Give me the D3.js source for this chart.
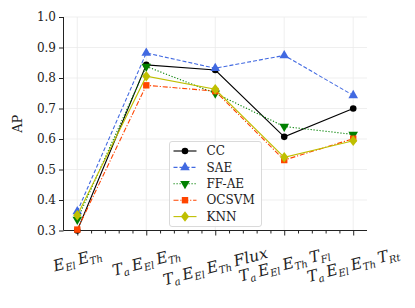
<!DOCTYPE html>
<html>
<head>
<meta charset="utf-8">
<script src="https://cdn.jsdelivr.net/npm/d3@7"></script>
<style>
  body { margin: 0; background: #fff; }
  svg { display: block; }
  text { font-family: "DejaVu Serif", serif; fill: #222; }
</style>
</head>
<body>
<svg id="chart" width="415" height="308"></svg>
<script>
// categories on the x axis (main letter, subscript) pieces
var categories = [
  [["E","El"],["E","Th"]],
  [["T","a"],["E","El"],["E","Th"]],
  [["T","a"],["E","El"],["E","Th"],["Flux",""]],
  [["T","a"],["E","El"],["E","Th"],["T","Fl"]],
  [["T","a"],["E","El"],["E","Th"],["T","Rt"]]
];
var seriesNames = ["CC", "SAE", "FF-AE", "OCSVM", "KNN"];
var ccValues    = [0.300, 0.843, 0.826, 0.607, 0.700];
var saeValues   = [0.362, 0.882, 0.832, 0.874, 0.743];
var ffaeValues  = [0.336, 0.838, 0.750, 0.641, 0.615];
var ocsvmValues = [0.303, 0.776, 0.757, 0.531, 0.601];
var knnValues   = [0.350, 0.806, 0.763, 0.540, 0.594];
var yTicks = [0.3, 0.4, 0.5, 0.6, 0.7, 0.8, 0.9, 1.0];

var colors  = ["#000000", "#4169e1", "#008000", "#ff4500", "#bfbf00"];
var dashes  = [null, "4,2", "1.2,1.8", "5,1.8,1.2,1.8", null];
var symbols = ["circle", "up", "down", "square", "diamond"];
var allValues = [ccValues, saeValues, ffaeValues, ocsvmValues, knnValues];

var svg = d3.select("#chart");
var plotLeft = 63.5, plotRight = 367, plotTop = 17, plotBottom = 230.5;

var x = d3.scaleLinear().domain([-0.2, 4.2]).range([plotLeft, plotRight]);
var y = d3.scaleLinear().domain([0.3, 1.0]).range([plotBottom, plotTop]);

// grid
svg.append("g").selectAll("line").data(yTicks).enter().append("line")
  .attr("x1", plotLeft).attr("x2", plotRight)
  .attr("y1", function(d){ return y(d); }).attr("y2", function(d){ return y(d); })
  .attr("stroke", "#ebebeb").attr("stroke-width", 0.8);
svg.append("g").selectAll("line").data(d3.range(categories.length)).enter().append("line")
  .attr("y1", plotTop).attr("y2", plotBottom)
  .attr("x1", function(d){ return x(d); }).attr("x2", function(d){ return x(d); })
  .attr("stroke", "#ebebeb").attr("stroke-width", 0.8);

// y axis
var yAxis = svg.append("g")
  .attr("transform", "translate(" + plotLeft + ",0)")
  .call(d3.axisLeft(y).tickValues(yTicks).tickFormat(d3.format(".1f")).tickSize(4.5).tickPadding(3));
yAxis.select(".domain").attr("stroke", "#222").attr("d", "M0," + plotTop + "V" + plotBottom);
yAxis.selectAll(".tick line").attr("stroke", "#222");
yAxis.selectAll("text").attr("font-family", "DejaVu Serif").attr("font-size", 12).attr("fill", "#222");

// x axis: major ticks with minor ticks every 0.2
var minor = d3.range(0, 4.01, 0.2).filter(function(d){ return Math.abs(d - Math.round(d)) > 0.01; });
var xAxis = svg.append("g")
  .attr("transform", "translate(0," + plotBottom + ")")
  .call(d3.axisBottom(x).tickValues(d3.range(categories.length)).tickFormat("").tickSize(5));
xAxis.select(".domain").attr("stroke", "#222").attr("d", "M" + plotLeft + ",0H" + plotRight);
xAxis.selectAll(".tick line").attr("stroke", "#222");
svg.append("g").attr("transform", "translate(0," + plotBottom + ")")
  .call(d3.axisBottom(x).tickValues(minor).tickFormat("").tickSize(3))
  .call(function(g){ g.select(".domain").remove(); g.selectAll("line").attr("stroke", "#222"); });

// x tick labels, rotated
var ang = 15 * Math.PI / 180;
categories.forEach(function(parts, i){
  var g = svg.append("g");
  var t = g.append("text").attr("text-anchor", "middle").attr("dy", "0.35em")
    .attr("font-family", "Liberation Serif").attr("font-style", "italic")
    .attr("font-size", 15.5).attr("fill", "#333");
  parts.forEach(function(p, j){
    t.append("tspan").attr("dx", j > 0 ? 3.5 : 0).attr("baseline-shift", "0").text(p[0]);
    if (p[1]) t.append("tspan").attr("font-size", 10).attr("baseline-shift", "-3").text(p[1]);
  });
  var w = t.node().getComputedTextLength();
  var h = 17;
  var H = w * Math.sin(ang) + h * Math.cos(ang);
  g.attr("transform", "translate(" + x(i) + "," + (plotBottom + 15 + H / 2) + ") rotate(-15)");
});

// y label
svg.append("text")
  .attr("transform", "translate(17," + ((plotTop + plotBottom) / 2) + ") rotate(-90)")
  .attr("text-anchor", "middle").attr("dy", "0.35em")
  .attr("font-size", 13).text("AP");

function marker(sel, kind, color, cx, cy) {
  if (kind === "circle") {
    sel.append("circle").attr("cx", cx).attr("cy", cy).attr("r", 3.3).attr("fill", color);
  } else if (kind === "square") {
    sel.append("rect").attr("x", cx - 3.2).attr("y", cy - 3.2).attr("width", 6.4).attr("height", 6.4).attr("fill", color);
  } else {
    var type = kind === "diamond" ? d3.symbolDiamond : d3.symbolTriangle;
    var size = kind === "diamond" ? 44 : 40;
    var rot = kind === "down" ? " rotate(180)" : "";
    sel.append("path").attr("d", d3.symbol().type(type).size(size)())
      .attr("transform", "translate(" + cx + "," + cy + ")" + rot + (kind === "diamond" ? " scale(1.15,0.85)" : ""))
      .attr("fill", color);
  }
}

var line = d3.line().x(function(d, i){ return x(i); }).y(function(d){ return y(d); });

allValues.forEach(function(vals, s){
  var g = svg.append("g");
  g.append("path").datum(vals).attr("d", line)
    .attr("fill", "none").attr("stroke", colors[s]).attr("stroke-width", 1.1)
    .attr("stroke-dasharray", dashes[s]);
  vals.forEach(function(v, i){ marker(g, symbols[s], colors[s], x(i), y(v)); });
});

// legend
var lg = svg.append("g").attr("transform", "translate(169.5,141.5)");
lg.append("rect").attr("width", 92).attr("height", 85).attr("rx", 2.5)
  .attr("fill", "#fff").attr("fill-opacity", 0.85).attr("stroke", "#d0d0d0").attr("stroke-width", 0.8);
seriesNames.forEach(function(name, s){
  var yy = 9.5 + s * 16.4;
  lg.append("line").attr("x1", 4).attr("x2", 27).attr("y1", yy).attr("y2", yy)
    .attr("stroke", colors[s]).attr("stroke-width", 1.1).attr("stroke-dasharray", dashes[s]);
  marker(lg, symbols[s], colors[s], 15.5, yy);
  lg.append("text").attr("x", 37).attr("y", yy).attr("dy", "0.35em")
    .attr("font-size", 12).text(name);
});
</script>
</body>
</html>
